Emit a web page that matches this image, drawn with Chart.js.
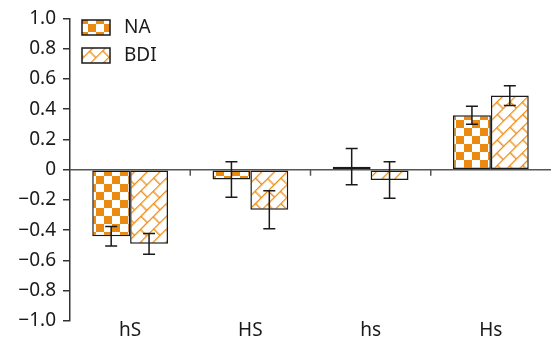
<!DOCTYPE html>
<html>
<head>
<meta charset="utf-8">
<script src="https://cdn.jsdelivr.net/npm/chart.js@4.4.0/dist/chart.umd.min.js"></script>
<style>
  html, body { margin: 0; padding: 0; background: #fff; }
  #wrap { width: 552px; height: 340px; position: relative; }
</style>
</head>
<body>
<div id="wrap"><canvas id="chart"></canvas></div>
<script>
const categories = ['hS', 'HS', 'hs', 'Hs'];
const naValues = [-0.44, -0.065, 0.02, 0.36];
const naErrors = [0.065, 0.117, 0.12, 0.06];
const bdiValues = [-0.49, -0.265, -0.068, 0.49];
const bdiErrors = [0.068, 0.126, 0.12, 0.065];
const seriesNames = ['NA', 'BDI'];

const orange = '#EA8A10';
const ink = '#1a1a1a';
const font = '"Noto Sans", "Liberation Sans", sans-serif';

function checkerPattern() {
    const c = document.createElement('canvas');
    c.width = 16; c.height = 16;
    const g = c.getContext('2d');
    g.fillStyle = '#fff';
    g.fillRect(0, 0, 16, 16);
    g.fillStyle = orange;
    g.fillRect(0, 0, 8, 8);
    g.fillRect(8, 8, 8, 8);
    return document.createElement('canvas').getContext('2d').createPattern(c, 'repeat');
}

function brickPattern() {
    const w = 18, h = 9;
    const c = document.createElement('canvas');
    c.width = w; c.height = h * 2;
    const g = c.getContext('2d');
    g.fillStyle = '#fff';
    g.fillRect(0, 0, w, h * 2);
    g.strokeStyle = orange;
    g.lineWidth = 1.3;
    g.beginPath();
    g.moveTo(0, 0.7); g.lineTo(w, 0.7);
    g.moveTo(0, h + 0.7); g.lineTo(w, h + 0.7);
    g.moveTo(0.7, 0); g.lineTo(0.7, h);
    g.moveTo(w / 2, h); g.lineTo(w / 2, h * 2);
    g.stroke();
    const p = document.createElement('canvas').getContext('2d').createPattern(c, 'repeat');
    p.setTransform(new DOMMatrix().rotateSelf(-45));
    return p;
}

const patterns = [checkerPattern(), brickPattern()];
const errorSets = [naErrors, bdiErrors];

const errorBars = {
    id: 'errorBars',
    afterDatasetsDraw(chart) {
        const ctx = chart.ctx;
        const y = chart.scales.y;
        ctx.save();
        ctx.strokeStyle = ink;
        ctx.lineWidth = 1.5;
        chart.data.datasets.forEach((ds, di) => {
            const meta = chart.getDatasetMeta(di);
            meta.data.forEach((bar, i) => {
                const v = ds.data[i];
                const e = errorSets[di][i];
                const top = y.getPixelForValue(v + e);
                const bot = y.getPixelForValue(v - e);
                ctx.beginPath();
                ctx.moveTo(bar.x, top); ctx.lineTo(bar.x, bot);
                ctx.moveTo(bar.x - 6, top); ctx.lineTo(bar.x + 6, top);
                ctx.moveTo(bar.x - 6, bot); ctx.lineTo(bar.x + 6, bot);
                ctx.stroke();
            });
        });
        ctx.restore();
    }
};

const zeroLine = {
    id: 'zeroLine',
    beforeDatasetsDraw(chart) {
        const ctx = chart.ctx;
        const area = chart.chartArea;
        const y0 = chart.scales.y.getPixelForValue(0);
        const x = chart.scales.x;
        ctx.save();
        ctx.strokeStyle = '#555';
        ctx.lineWidth = 1.5;
        ctx.beginPath();
        ctx.moveTo(area.left, y0); ctx.lineTo(area.right, y0);
        for (let i = 1; i < categories.length; i++) {
            const bx = (x.getPixelForValue(i - 1) + x.getPixelForValue(i)) / 2;
            ctx.moveTo(bx, y0); ctx.lineTo(bx, y0 + 6);
        }
        ctx.stroke();
        ctx.restore();
    }
};

const boxLegend = {
    id: 'boxLegend',
    afterDraw(chart) {
        const ctx = chart.ctx;
        ctx.save();
        seriesNames.forEach((name, i) => {
            const top = 20 + i * 28;
            ctx.fillStyle = patterns[i];
            ctx.fillRect(82, top, 28, 15);
            ctx.strokeStyle = ink;
            ctx.lineWidth = 1.5;
            ctx.strokeRect(82, top, 28, 15);
            ctx.fillStyle = ink;
            ctx.font = '19px ' + font;
            ctx.textBaseline = 'middle';
            ctx.fillText(name, 124, top + 8);
        });
        ctx.restore();
    }
};

new Chart(document.getElementById('chart'), {
    type: 'bar',
    data: {
        labels: categories,
        datasets: [
            { label: seriesNames[0], data: naValues, backgroundColor: patterns[0],
              borderColor: ink, borderWidth: 1.5, borderSkipped: false },
            { label: seriesNames[1], data: bdiValues, backgroundColor: patterns[1],
              borderColor: ink, borderWidth: 1.5, borderSkipped: false }
        ]
    },
    options: {
        responsive: true,
        maintainAspectRatio: false,
        animation: false,
        layout: { padding: { top: 12, right: 1, bottom: 0, left: 0 } },
        datasets: { bar: { categoryPercentage: 0.63, barPercentage: 1 } },
        plugins: { legend: { display: false }, tooltip: { enabled: false } },
        scales: {
            x: {
                afterFit(scale) { scale.height = 19; },
                grid: { display: false, drawTicks: false },
                border: { display: false },
                ticks: { color: ink, padding: 0, font: { family: font, size: 19, lineHeight: 1 } }
            },
            y: {
                min: -1, max: 1,
                afterFit(scale) { scale.width = 70; },
                grid: { display: true, drawOnChartArea: false, drawTicks: true, tickLength: 7, color: '#333', lineWidth: 1.5 },
                border: { display: true, color: '#333', width: 1.5 },
                ticks: {
                    stepSize: 0.2,
                    color: ink,
                    padding: 7,
                    font: { family: font, size: 19 },
                    callback: v => Math.abs(v) < 1e-9 ? '0' : (v < 0 ? '\u2212' : '') + Math.abs(v).toFixed(1)
                }
            }
        }
    },
    plugins: [zeroLine, errorBars, boxLegend]
});
</script>
</body>
</html>
